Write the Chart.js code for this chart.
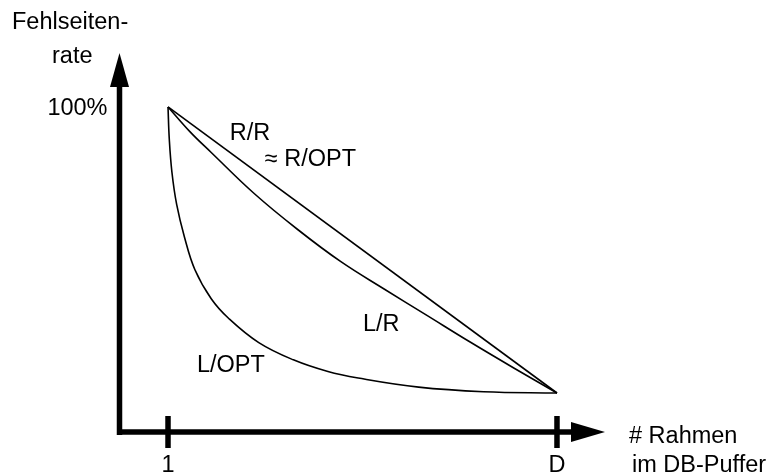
<!DOCTYPE html>
<html>
<head>
<meta charset="utf-8">
<script src="https://cdn.jsdelivr.net/npm/chart.js@4"></script>
<style>
html,body{margin:0;padding:0;background:#fff;}
#wrap{position:relative;width:769px;height:475px;}
</style>
</head>
<body>
<div id="wrap"><canvas id="c"></canvas></div>
<script>
// ---- data ----
const xTickValues = [1, 10];
const xTickLabels = ['1', 'D'];
const yTickValues = [100];
const yTickLabels = ['100%'];
const yAxisTitle = ['Fehlseiten-', 'rate'];
const xAxisTitle = ['# Rahmen', 'im DB-Puffer'];

const rrX = [1, 10];
const rrY = [100, 12];
const lrX = [1, 1.5, 2, 3, 4, 5, 6, 7, 8, 9, 10];
const lrY = [100, 92.5, 86, 73.3, 62.3, 52.4, 44, 35.8, 27.6, 19.7, 12];
const loptX = [1, 1.03, 1.09, 1.2, 1.38, 1.62, 2.0, 2.4, 3.1, 3.9, 4.7, 5.4, 6.8, 8.3, 10];
const loptY = [100, 90, 80, 70, 60, 50, 41, 35, 27.5, 22.2, 18.6, 16.6, 13.8, 12.4, 12];

const curveLabels = ['R/R', '\u2248 R/OPT', 'L/R', 'L/OPT'];
const curveLabelX = [2.43, 3.24, 5.51, 1.67];
const curveLabelY = [89.8, 81.8, 31.1, 18.5];

const xMin = -0.134, xMax = 11.111, yMin = 0, yMax = 116.6;

function pts(xs, ys){ return xs.map((x,i)=>({x:x, y:ys[i]})); }

const FONT = '23.5px "Liberation Sans", Arial, sans-serif';
function txt(ctx, s, x, y, align){
  ctx.textAlign = align || 'left';
  ctx.textBaseline = 'alphabetic';
  ctx.fillText(s, x, y);
}

const decor = {
  id: 'decor',
  afterDatasetsDraw(chart){
    const ctx = chart.ctx;
    const xs = chart.scales.x, ys = chart.scales.y;
    const x0 = xs.getPixelForValue(xMin) + 0.5;
    const y0 = ys.getPixelForValue(0);
    const xTip = xs.getPixelForValue(xMax);
    const yTip = ys.getPixelForValue(yMax);
    ctx.save();
    ctx.fillStyle = '#000';
    ctx.strokeStyle = '#000';
    ctx.lineWidth = 5.5;
    ctx.lineCap = 'butt';
    // y axis
    ctx.beginPath();
    ctx.moveTo(x0, y0 + 3);
    ctx.lineTo(x0, yTip + 34);
    ctx.stroke();
    // y arrow
    ctx.beginPath();
    ctx.moveTo(x0, yTip);
    ctx.lineTo(x0 - 9.5, yTip + 34);
    ctx.lineTo(x0 + 9.5, yTip + 34);
    ctx.closePath();
    ctx.fill();
    // x axis
    ctx.beginPath();
    ctx.moveTo(x0 - 2.5, y0);
    ctx.lineTo(xTip - 34, y0);
    ctx.stroke();
    ctx.beginPath();
    ctx.moveTo(xTip, y0);
    ctx.lineTo(xTip - 34, y0 - 10);
    ctx.lineTo(xTip - 34, y0 + 10);
    ctx.closePath();
    ctx.fill();
    // ticks
    ctx.font = FONT;
    xTickValues.forEach((v,i)=>{
      const px = xs.getPixelForValue(v);
      ctx.beginPath();
      ctx.moveTo(px, y0 - 16);
      ctx.lineTo(px, y0 + 16);
      ctx.stroke();
      txt(ctx, xTickLabels[i], px, y0 + 40, 'center');
    });
    yTickValues.forEach((v,i)=>{
      const py = ys.getPixelForValue(v);
      txt(ctx, yTickLabels[i], x0 - 12, py + 8, 'right');
    });
    // axis titles
    txt(ctx, yAxisTitle[0], 12, 29, 'left');
    txt(ctx, yAxisTitle[1], 52, 63, 'left');
    txt(ctx, xAxisTitle[0], xTip + 24, y0 + 11, 'left');
    txt(ctx, xAxisTitle[1], xTip + 27, y0 + 40, 'left');
    // curve labels
    curveLabels.forEach((s,i)=>{
      txt(ctx, s, xs.getPixelForValue(curveLabelX[i]), ys.getPixelForValue(curveLabelY[i]), 'left');
    });
    ctx.restore();
  }
};

const common = {borderColor:'#000', borderWidth:1.6, pointRadius:0, fill:false};

new Chart(document.getElementById('c'), {
  type: 'line',
  data: {
    datasets: [
      Object.assign({label:'R/R', data: pts(rrX, rrY), tension:0}, common),
      Object.assign({label:'L/R', data: pts(lrX, lrY), tension:0.4}, common),
      Object.assign({label:'L/OPT', data: pts(loptX, loptY), tension:0.4}, common)
    ]
  },
  options: {
    responsive: true,
    maintainAspectRatio: false,
    animation: false,
    layout: {padding: {left: 119, right: 164, top: 53, bottom: 43}},
    plugins: {legend:{display:false}, tooltip:{enabled:false}},
    scales: {
      x: {type:'linear', min:xMin, max:xMax, display:false},
      y: {type:'linear', min:yMin, max:yMax, display:false}
    }
  },
  plugins: [decor]
});
</script>
</body>
</html>
